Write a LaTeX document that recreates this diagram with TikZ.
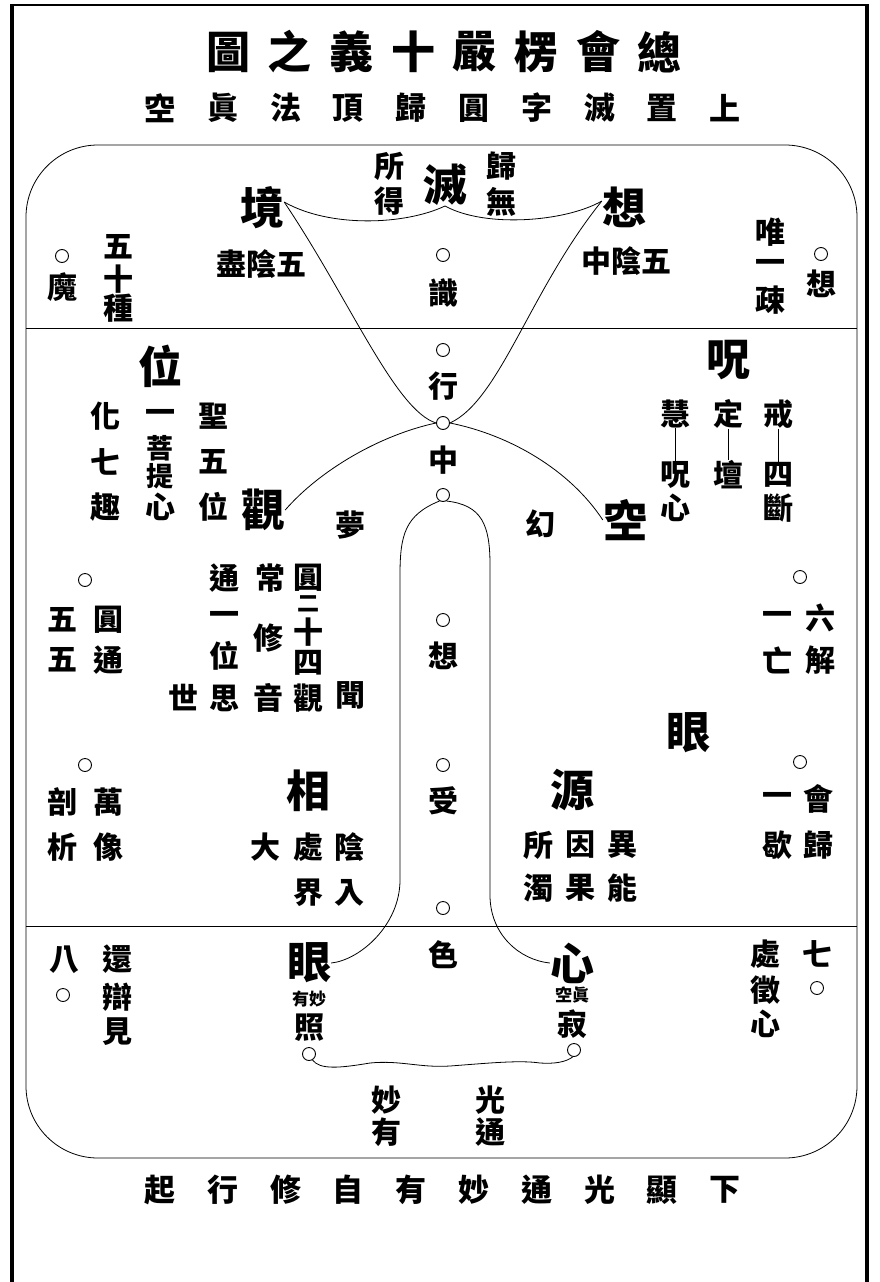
\documentclass[tikz,border=0pt]{standalone}
\usepackage{fontspec}
\newfontfamily\cjk{Noto Sans CJK TC}
\usetikzlibrary{positioning}
\tikzset{
    hanzi/.style={inner sep=0pt, font=\cjk\bfseries\fontsize{30}{30}\selectfont},
    bigzi/.style={inner sep=0pt, font=\cjk\bfseries\fontsize{44}{44}\selectfont},
    titlezi/.style={inner sep=0pt, font=\cjk\bfseries\fontsize{44}{44}\selectfont},
    subzi/.style={inner sep=0pt, font=\cjk\bfseries\fontsize{31}{31}\selectfont},
    smallzi/.style={inner sep=0pt, font=\cjk\bfseries\fontsize{17}{17}\selectfont},
    ring/.style={circle, draw, line width=0.9pt, minimum size=13pt, inner sep=0pt},
    conn/.style={line width=0.8pt},
    border/.style={line width=3.5pt}
}
\begin{document}
\begin{tikzpicture}[x=1pt, y=-1pt]
    \useasboundingbox (0,0) rectangle (879,1282);
    % outer frame and the rounded box
    \draw[border] (12,1282) -- (12,4);
    \draw[line width=2pt] (12,5) -- (867,5);
    \draw[border] (867,4) -- (867,1282);
    \draw[conn, rounded corners=72pt] (26,145) rectangle (857,1158);
    \draw[conn] (26,328) -- (857,328);
    \draw[conn] (26,926) -- (857,926);

    % title lines
    \foreach \c [count=\i] in {圖,之,義,十,嚴,楞,會,總}
        \node[titlezi] (ti\i) at ({228+61.7*(\i-1)},52) {\c};
    \foreach \c [count=\i] in {空,眞,法,頂,歸,圓,字,滅,置,上}
        \node[subzi] (st\i) at ({160+62.8*(\i-1)},108) {\c};
    \foreach \c [count=\i] in {起,行,修,自,有,妙,通,光,顯,下}
        \node[subzi] (bt\i) at ({160+62.8*(\i-1)},1190) {\c};

    % top part
    \node[bigzi] (jing) at (262,208) {境};
    \node[bigzi] (mie) at (445,185) {滅};
    \node[bigzi] (xiang) at (624,207) {想};
    \node[hanzi] (suo) at (389,166) {所};
    \node[hanzi, below=6pt of suo] (de) {得};
    \node[hanzi] (gui) at (501,166) {歸};
    \node[hanzi, below=7pt of gui] (wu) {無};
    \node[hanzi] (jinyin) at (261,264) {盡陰五};
    \node[hanzi] (zhongyin) at (626,261) {中陰五};
    \node[ring] (cmo) at (62,256) {};
    \node[hanzi] (mo) at (62,287) {魔};
    \foreach \c/\y [count=\i] in {五/247,十/279,種/308}
        \node[hanzi] (wushi\i) at (118,\y) {\c};
    \foreach \c/\y [count=\i] in {唯/232,一/266,疎/300}
        \node[hanzi] (wei\i) at (770,\y) {\c};
    \node[ring] (cxiang) at (821,254) {};
    \node[hanzi] (xiangR) at (821,284) {想};
    \node[ring] (cshi) at (443,255) {};
    \node[hanzi] (shi) at (443,293) {識};

    % middle column
    \node[ring] (cxing) at (443,350) {};
    \node[hanzi] (xing) at (443,386) {行};
    \node[ring] (czhong) at (443,423) {};
    \node[hanzi] (zhong) at (443,460) {中};
    \node[ring] (cxia) at (443,495) {};
    \node[ring] (cxiang2) at (443,620) {};
    \node[hanzi] (xiang2) at (443,656) {想};
    \node[ring] (cshou) at (443,765) {};
    \node[hanzi] (shou) at (443,801) {受};
    \node[ring] (cse) at (443,908) {};
    \node[hanzi] (se) at (443,955) {色};

    % left of the middle part
    \node[bigzi] (wei) at (160,366) {位};
    \foreach \c/\y [count=\i] in {化/416,七/462,趣/507}
        \node[hanzi] (hua\i) at (105,\y) {\c};
    \node[hanzi] (yi) at (160,416) {一};
    \node[hanzi, font=\cjk\bfseries\fontsize{27}{27}\selectfont] (pu) at (160,448) {菩};
    \node[hanzi, font=\cjk\bfseries\fontsize{27}{27}\selectfont] (ti) at (160,476) {提};
    \node[hanzi] (xinA) at (160,507) {心};
    \foreach \c/\y [count=\i] in {聖/416,五/462,位/507}
        \node[hanzi] (sheng\i) at (213,\y) {\c};
    \node[bigzi] (guan) at (263,510) {觀};
    \node[hanzi] (meng) at (350,525) {夢};

    \node[ring] (cyuan) at (85,580) {};
    \node[hanzi] (wuA) at (62,620) {五};
    \node[hanzi] (yuanA) at (108,620) {圓};
    \node[hanzi] (wuB) at (62,660) {五};
    \node[hanzi] (tongA) at (108,660) {通};

    \node[hanzi] (tongB) at (224,578) {通};
    \node[hanzi] (chang) at (270,578) {常};
    \node[hanzi] (yuanB) at (308,578) {圓};
    \node[hanzi, font=\cjk\bfseries\fontsize{22}{22}\selectfont] (er) at (308,604) {二};
    \node[hanzi] (shi2) at (308,632) {十};
    \node[hanzi] (si) at (308,663) {四};
    \node[hanzi] (yiB) at (224,618) {一};
    \node[hanzi] (weiB) at (224,656) {位};
    \node[hanzi] (xiu) at (268,638) {修};
    \foreach \c/\x [count=\i] in {世/183,思/224,音/268,觀/308}
        \node[hanzi] (shiyin\i) at (\x,698) {\c};
    \node[hanzi] (wen) at (350,695) {聞};

    \node[ring] (cwan) at (85,765) {};
    \node[hanzi] (pou) at (62,802) {剖};
    \node[hanzi] (wan) at (108,802) {萬};
    \node[hanzi] (xi) at (62,847) {析};
    \node[hanzi] (xiang3) at (108,847) {像};
    \node[bigzi] (xiangB) at (308,791) {相};
    \foreach \c/\x [count=\i] in {大/265,處/308,陰/349}
        \node[hanzi] (da\i) at (\x,847) {\c};
    \node[hanzi] (jie) at (308,893) {界};
    \node[hanzi] (ru) at (349,893) {入};

    % right of the middle part
    \node[bigzi] (zhou) at (728,360) {呪};
    \node[hanzi] (hui) at (675,414) {慧};
    \node[hanzi] (zhouS) at (675,475) {呪};
    \node[hanzi] (xinS) at (675,508) {心};
    \node[hanzi] (ding) at (728,414) {定};
    \node[hanzi] (tan) at (728,475) {壇};
    \node[hanzi] (jieR) at (778,414) {戒};
    \node[hanzi] (siR) at (778,475) {四};
    \node[hanzi] (duan) at (778,508) {斷};
    \draw[conn] (hui) -- (zhouS);
    \draw[conn] (ding) -- (tan);
    \draw[conn] (jieR) -- (siR);
    \node[hanzi] (huan) at (540,524) {幻};
    \node[bigzi] (kong) at (625,520) {空};

    \node[ring] (cliu) at (800,577) {};
    \node[hanzi] (yiC) at (777,618) {一};
    \node[hanzi] (liu) at (820,618) {六};
    \node[hanzi] (wang) at (777,660) {亡};
    \node[hanzi] (jiejie) at (820,660) {解};
    \node[bigzi] (yanA) at (688,733) {眼};
    \node[bigzi] (yuan) at (572,790) {源};
    \foreach \c/\x [count=\i] in {所/538,因/580,異/622}
        \node[hanzi] (suoyin\i) at (\x,845) {\c};
    \foreach \c/\x [count=\i] in {濁/538,果/580,能/622}
        \node[hanzi] (zhuo\i) at (\x,888) {\c};
    \node[ring] (chui) at (800,762) {};
    \node[hanzi] (yiD) at (777,799) {一};
    \node[hanzi] (hui2) at (818,799) {會};
    \node[hanzi] (xie) at (777,845) {歇};
    \node[hanzi] (gui2) at (818,845) {歸};

    % bottom part
    \node[hanzi] (ba) at (64,960) {八};
    \node[ring] (cba) at (63,995) {};
    \foreach \c/\y [count=\i] in {還/959,辯/997,見/1032}
        \node[hanzi] (huan\i) at (117,\y) {\c};
    \node[bigzi] (yanB) at (309,963) {眼};
    \node[smallzi] (miaoyou) at (309,999) {有妙};
    \node[hanzi] (zhao) at (309,1028) {照};
    \node[ring] (czhao) at (309,1054) {};
    \node[bigzi] (xinB) at (572,963) {心};
    \node[smallzi] (zhenkong) at (572,995) {空眞};
    \node[hanzi] (ji) at (572,1024) {寂};
    \node[ring] (cji) at (574,1050) {};
    \foreach \c/\y [count=\i] in {處/954,徵/990,心/1024}
        \node[hanzi] (chu\i) at (765,\y) {\c};
    \node[hanzi] (qi) at (817,954) {七};
    \node[ring] (cqi) at (817,988) {};
    \node[hanzi] (miao) at (386,1100) {妙};
    \node[hanzi] (you) at (386,1132) {有};
    \node[hanzi] (guang) at (490,1100) {光};
    \node[hanzi] (tongC) at (490,1132) {通};

    % curves
    \draw[conn] (jing.15) .. controls (330,228) and (405,225) .. (mie.south)
        .. controls (485,228) and (565,222) .. (xiang.165);
    \draw[conn] (jing.15) .. controls (350,300) and (395,410) .. (czhong.west);
    \draw[conn] (xiang.165) .. controls (530,290) and (500,400) .. (czhong.east);
    \draw[conn] (czhong.west) .. controls (380,435) and (320,470) .. (guan.east);
    \draw[conn] (czhong.east) .. controls (510,435) and (570,470) .. (kong.west);
    \draw[conn] (cxia.240) .. controls (405,515) and (400,535) .. (400,575)
        -- (400,880) .. controls (400,925) and (360,960) .. (yanB.east);
    \draw[conn] (cxia.-60) .. controls (482,505) and (490,525) .. (490,565)
        -- (490,895) .. controls (490,935) and (520,960) .. (xinB.west);
    \draw[conn] (czhao.-60) .. controls (320,1070) and (340,1068) .. (370,1063)
        .. controls (400,1060) and (420,1068) .. (450,1066)
        .. controls (490,1063) and (520,1060) .. (540,1063)
        .. controls (555,1064) and (566,1062) .. (cji.-100);
\end{tikzpicture}
\end{document}
